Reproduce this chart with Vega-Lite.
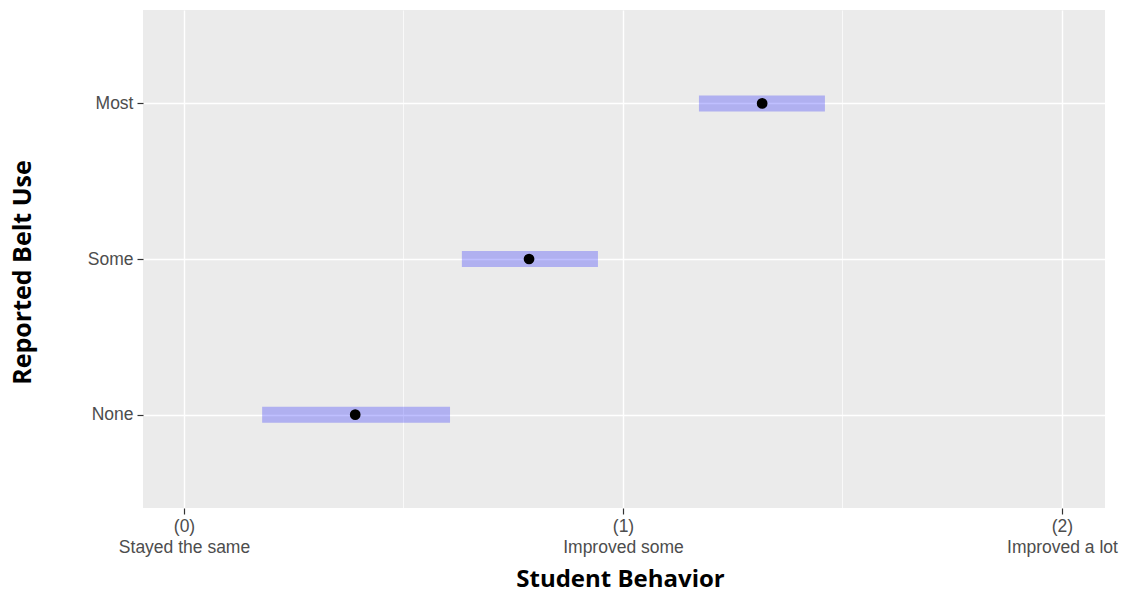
{
  "$schema": "https://vega.github.io/schema/vega-lite/v6.json",
  "width": 962,
  "height": 498,
  "autosize": {"type": "none"},
  "padding": {"left": 143, "top": 10, "right": 20, "bottom": 86},
  "background": "white",
  "view": {"fill": "#EBEBEB", "stroke": null},
  "data": {"values": [
    {"use": "Most", "low": 1.173, "high": 1.46, "mean": 1.317},
    {"use": "Some", "low": 0.633, "high": 0.943, "mean": 0.786},
    {"use": "None", "low": 0.178, "high": 0.606, "mean": 0.39}
  ]},
  "encoding": {
    "y": {
      "field": "use", "type": "nominal",
      "sort": ["Most", "Some", "None"],
      "scale": {"type": "point", "padding": 0.6},
      "axis": {
        "title": "Reported Belt Use",
        "titleFont": "Open Sans", "titleFontWeight": "bold", "titleFontSize": 25, "titleColor": "black",
        "titleX": -121, "titleY": 262, "titleBaseline": "middle", "titleAlign": "center",
        "labelFont": "Liberation Sans", "labelFontSize": 17.5, "labelColor": "#4D4D4D", "labelPadding": 4,
        "tickColor": "#333333", "tickSize": 6, "tickWidth": 1.2,
        "domain": false,
        "grid": true, "gridColor": "white", "gridWidth": 1.4
      }
    }
  },
  "layer": [
    {
      "mark": {"type": "rule", "strokeWidth": 16, "strokeCap": "butt", "color": "blue", "opacity": 0.25},
      "encoding": {
        "x": {
          "field": "low", "type": "quantitative",
          "scale": {"domain": [-0.0934, 2.098], "nice": false, "zero": false},
          "axis": {
            "title": "Student Behavior",
            "titleFont": "Open Sans", "titleFontWeight": "bold", "titleFontSize": 24, "titleColor": "black",
            "titleX": 477, "titleY": 78, "titleBaseline": "alphabetic", "titleAlign": "center",
            "values": [0, 0.5, 1, 1.5, 2],
            "labelExpr": "datum.value == 0 ? ['(0)', 'Stayed the same'] : datum.value == 1 ? ['(1)', 'Improved some'] : datum.value == 2 ? ['(2)', 'Improved a lot'] : ''",
            "labelFont": "Liberation Sans", "labelFontSize": 17.5, "labelColor": "#4D4D4D", "labelPadding": 3,
            "labelLineHeight": 21, "labelOverlap": false, "labelBound": false, "labelFlush": false,
            "tickColor": "#333333", "tickSize": 6, "tickWidth": 1.2,
            "tickOpacity": {"condition": {"test": "datum.value % 1 !== 0", "value": 0}, "value": 1},
            "domain": false,
            "grid": true, "gridColor": "white",
            "gridWidth": {"condition": {"test": "datum.value % 1 !== 0", "value": 0.7}, "value": 1.4}
          }
        },
        "x2": {"field": "high"}
      }
    },
    {
      "mark": {"type": "circle", "color": "black", "opacity": 1, "size": 115},
      "encoding": {
        "x": {"field": "mean", "type": "quantitative"}
      }
    }
  ]
}
